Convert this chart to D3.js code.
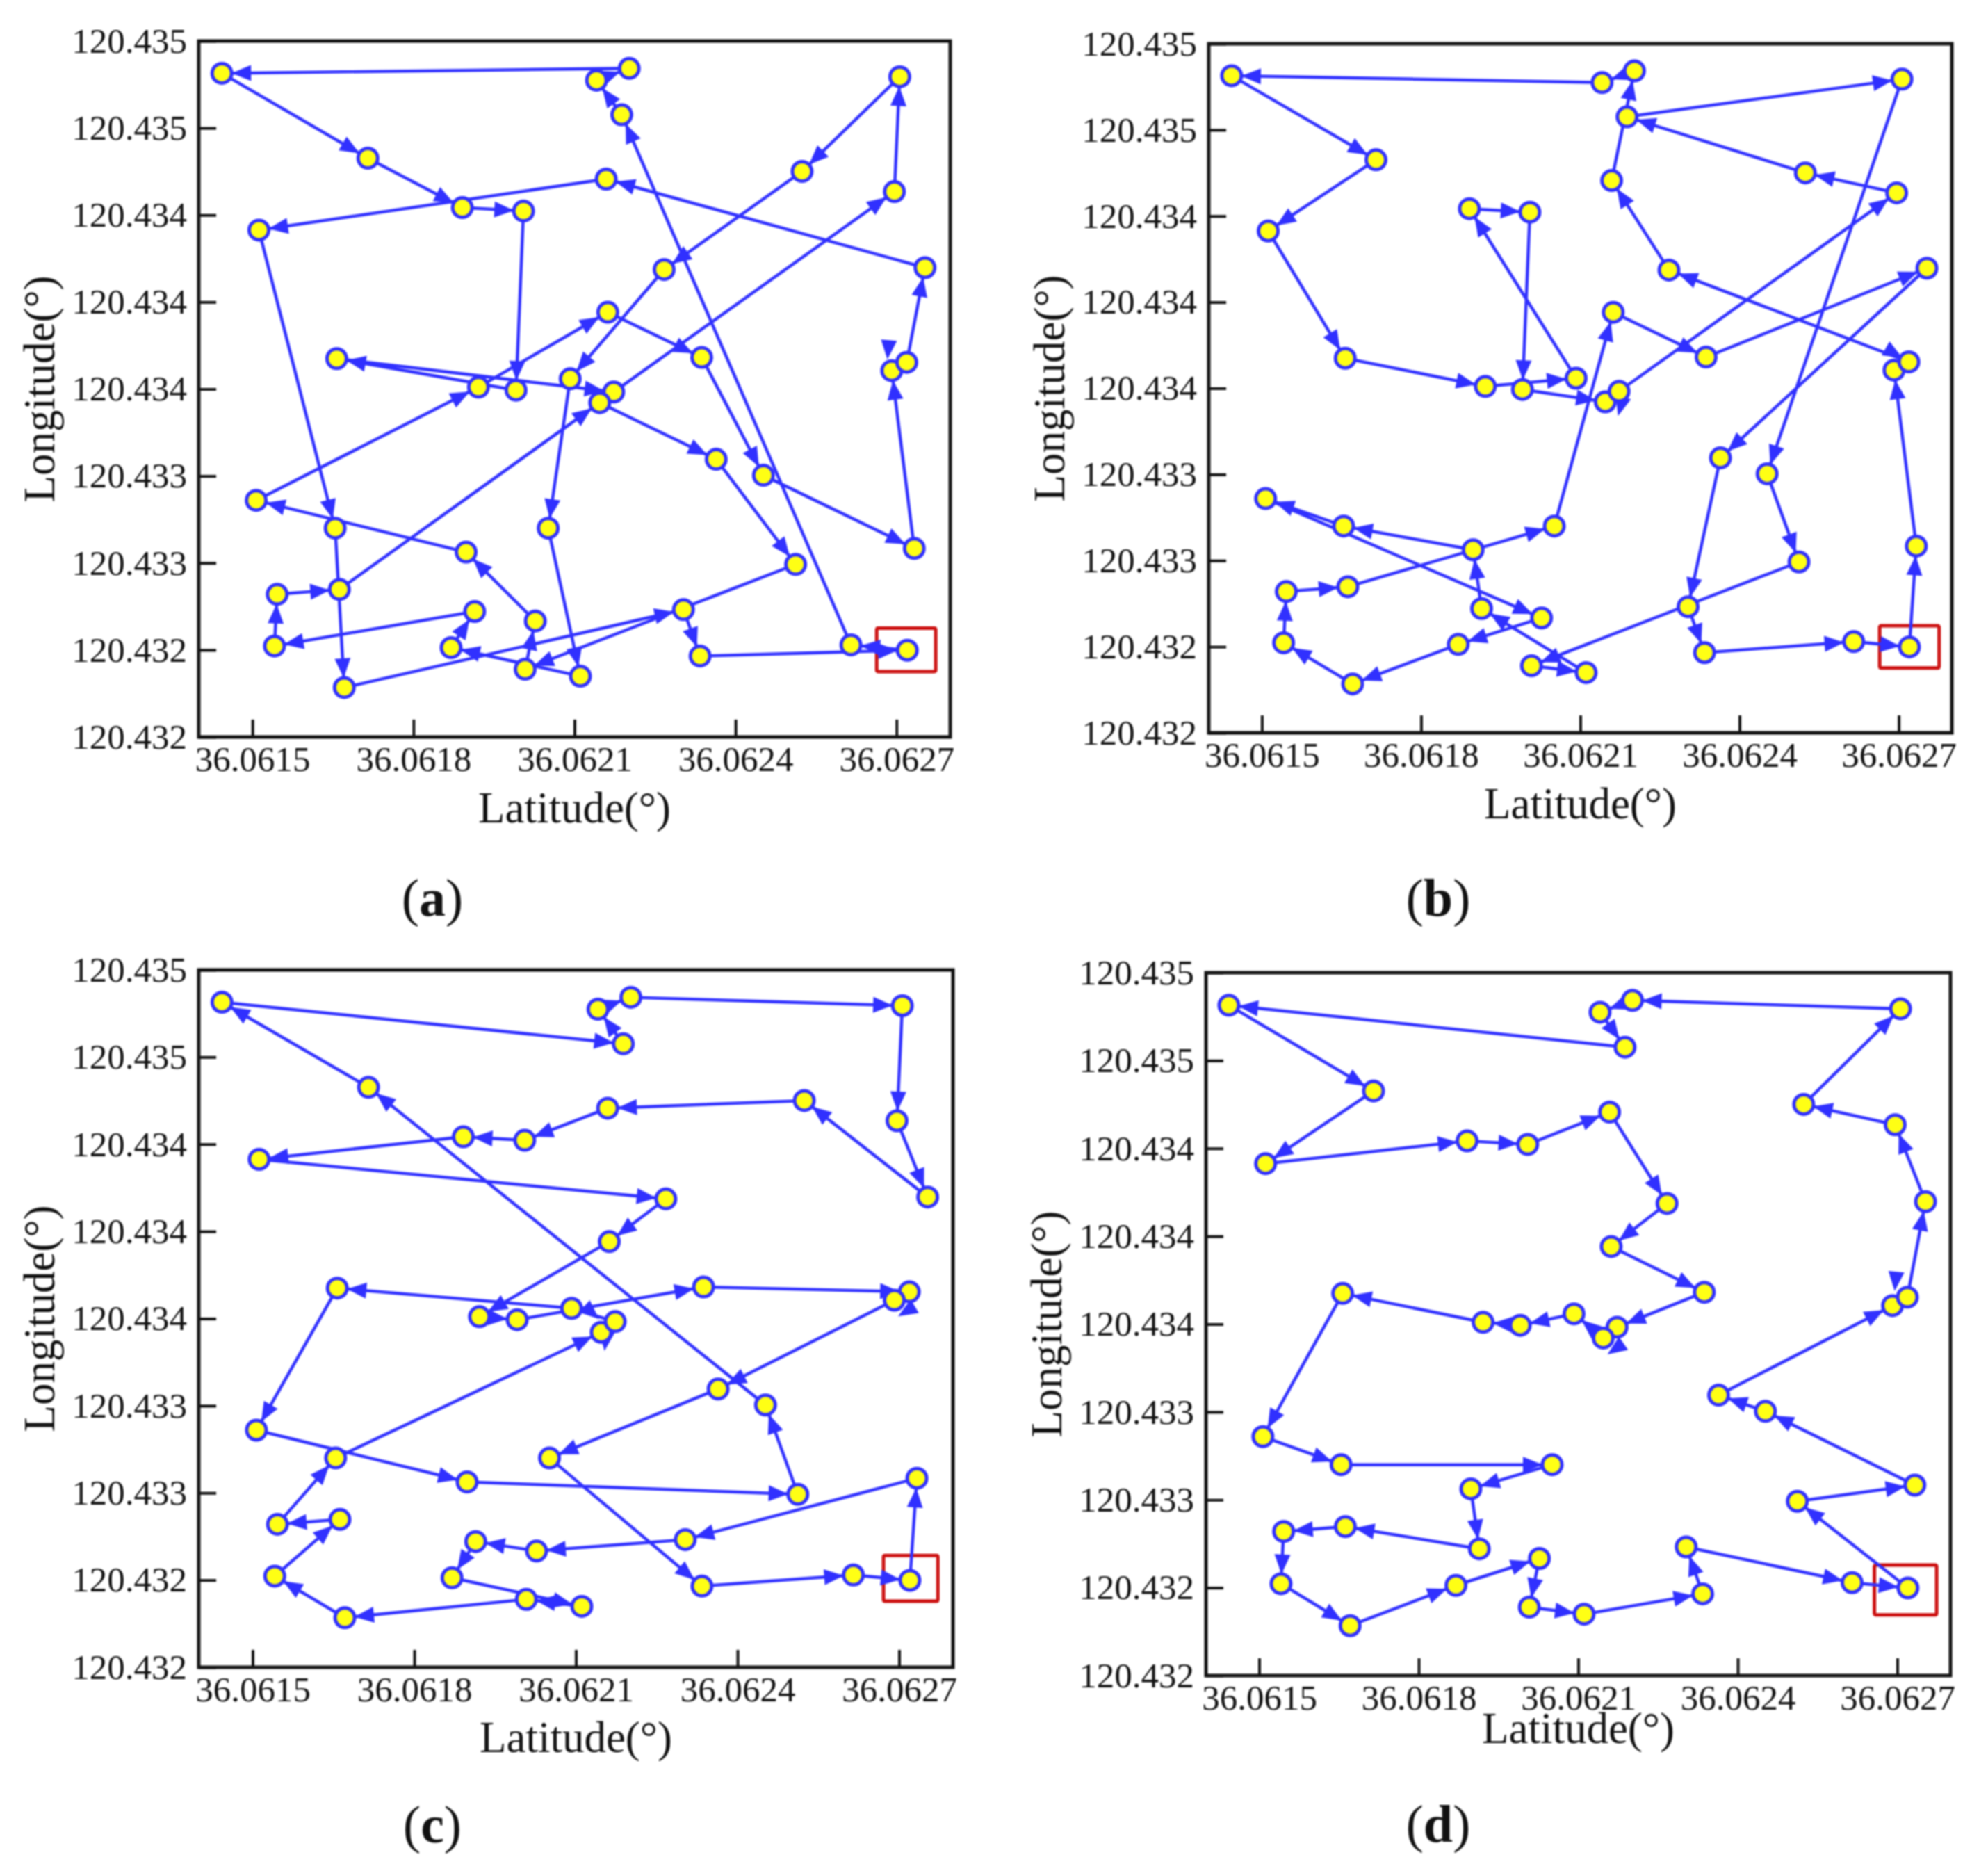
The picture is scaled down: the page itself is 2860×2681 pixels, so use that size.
<!DOCTYPE html>
<html>
<head>
<meta charset="utf-8">
<script src="https://cdn.jsdelivr.net/npm/d3@7"></script>
<style>
  html, body { margin: 0; background: #fff; }
  /* the original is a soft upscaled bitmap */
  #chart { filter: blur(0.8px); display: block; }
  text { font-family: "Liberation Serif", serif; fill: #111; }
</style>
</head>
<body>
<svg id="chart" width="2860" height="2681"></svg>
<script>
// waypoints, the same 45 in all four panels
var wayLat = [36.06272, 36.062615, 36.062334, 36.062303, 36.062512, 36.062733, 36.062452, 36.062364, 36.062337,
  36.062267, 36.062162, 36.062524, 36.062696, 36.062706, 36.062753, 36.062159, 36.062202, 36.062141, 36.062188,
  36.061443, 36.061715, 36.061891, 36.062005, 36.061512, 36.061657, 36.061921, 36.061991, 36.062092, 36.062173,
  36.062147, 36.061507, 36.061654, 36.061898, 36.062051, 36.062719, 36.062691, 36.061662, 36.061546, 36.061541,
  36.061671, 36.06187, 36.062008, 36.062111, 36.062027, 36.061914];
var wayLon = [120.432374, 120.432397, 120.432349, 120.432549, 120.432744, 120.432813, 120.433128, 120.433197, 120.433636,
  120.434015, 120.433831, 120.434438, 120.434351, 120.434846, 120.434023, 120.434405, 120.434882, 120.434831, 120.434682,
  120.434861, 120.434495, 120.434282, 120.434267, 120.434185, 120.433631, 120.433508, 120.433495, 120.433544, 120.433487,
  120.433441, 120.43302, 120.4329, 120.432797, 120.4329, 120.433615, 120.433579, 120.432636, 120.432615, 120.432392,
  120.432213, 120.432385, 120.432292, 120.432262, 120.4325, 120.432541];

// visiting order of each panel (indexes into the waypoints), all closed back to 0
var routeA = [0,1,18,17,16,19,20,21,22,26,24,28,12,13,11,9,27,33,42,40,44,38,37,36,29,7,4,41,43,32,30,25,10,8,6,5,35,34,14,15,23,31,39,3,2];
var routeB = [0,5,35,34,9,15,16,17,19,20,23,24,25,27,21,22,26,29,28,12,11,18,13,6,4,41,42,44,32,31,30,43,40,39,38,37,36,33,10,8,14,7,3,2,1];
var routeC = [0,5,3,43,44,40,42,41,39,38,36,37,31,29,28,27,24,30,32,4,6,20,19,18,17,16,13,12,14,11,15,22,21,23,9,10,25,26,8,34,35,7,33,2,1];
var routeD = [0,4,5,6,7,35,34,14,12,11,13,16,17,18,19,20,23,21,22,15,9,10,8,28,29,27,26,25,24,30,31,33,32,44,36,37,38,39,40,43,41,42,2,3,1];

// the short hops have their arrowhead knocked off the line in the original: tip lat, tip lon, tail lat, tail lon
var looseHeadsA = [[36.062683, 120.433627, 36.062685, 120.433684]];
var looseHeadsB = [[36.062171, 120.43338, 36.062178, 120.433438],
                   [36.062707, 120.433632, 36.062682, 120.433665]];
var looseHeadsC = [[36.062153, 120.433361, 36.062156, 120.433415],
                   [36.062698, 120.43351, 36.062726, 120.433549],
                   [36.062143, 120.433498, 36.062121, 120.433543]];
var looseHeadsD = [[36.062155, 120.433371, 36.062183, 120.433415],
                   [36.062695, 120.433641, 36.062697, 120.433691]];
var shortHops = ['34-35', '28-29', '27-28'];

// red box round the start point: lat from, lat to, lon from, lon to
var boxA = [36.062663, 36.062773, 120.432282, 120.432469];
var boxB = [36.062664, 36.062776, 120.432282, 120.432466];
var boxC = [36.062671, 36.062772, 120.432284, 120.432481];
var boxD = [36.062657, 36.062774, 120.432259, 120.432472];

var latTicks = [36.0615, 36.0618, 36.0621, 36.0624, 36.0627];
var latLabels = ['36.0615', '36.0618', '36.0621', '36.0624', '36.0627'];
var lonTicks = [120.432, 120.432375, 120.43275, 120.433125, 120.4335, 120.433875, 120.43425, 120.434625, 120.435];
var lonLabels = ['120.432', '120.432', '120.433', '120.433', '120.434', '120.434', '120.434', '120.435', '120.435'];

var latDomain = [36.0614, 36.0628];
var lonDomain = [120.432, 120.435];

var panels = [
  {name: 'a', route: routeA, loose: looseHeadsA, box: boxA, x0: 286, x1: 1367, y0: 59, y1: 1060, titleGap: 103, tagX: 622, tagY: 1317},
  {name: 'b', route: routeB, loose: looseHeadsB, box: boxB, x0: 1739, x1: 2808, y0: 63, y1: 1054, titleGap: 103, tagX: 2069, tagY: 1317},
  {name: 'c', route: routeC, loose: looseHeadsC, box: boxC, x0: 286, x1: 1371, y0: 1395, y1: 2398, titleGap: 102, tagX: 622, tagY: 2650},
  {name: 'd', route: routeD, loose: looseHeadsD, box: boxD, x0: 1735, x1: 2806, y0: 1399, y1: 2410, titleGap: 77, tagX: 2069, tagY: 2649}
];

var BLUE = '#3030ff';
var svg = d3.select('#chart');

function head(g, tipX, tipY, angle) {
  // triangle pointing along angle, tip at (tipX, tipY)
  g.append('path')
    .attr('d', 'M0,0L-28,-11.5L-28,11.5Z')
    .attr('fill', BLUE)
    .attr('transform', 'translate(' + tipX + ',' + tipY + ') rotate(' + (angle * 180 / Math.PI) + ')');
}

function drawPanel(p) {
  var x = d3.scaleLinear().domain(latDomain).range([p.x0, p.x1]);
  var y = d3.scaleLinear().domain(lonDomain).range([p.y1, p.y0]);
  var g = svg.append('g').attr('class', 'panel-' + p.name);

  // axes: ticks point inwards, no ticks on the top and right sides
  var xAxis = d3.axisBottom(x).tickValues(latTicks)
    .tickFormat(function (d, i) { return latLabels[i]; })
    .tickSizeInner(-25).tickSizeOuter(0).tickPadding(13);
  var yAxis = d3.axisLeft(y).tickValues(lonTicks)
    .tickFormat(function (d, i) { return lonLabels[i]; })
    .tickSizeInner(-25).tickSizeOuter(0).tickPadding(17);

  [g.append('g').attr('transform', 'translate(0,' + p.y1 + ')').call(xAxis),
   g.append('g').attr('transform', 'translate(' + p.x0 + ',0)').call(yAxis)].forEach(function (a) {
    a.select('.domain').remove();
    a.selectAll('line').attr('stroke', '#111').attr('stroke-width', 4);
    a.selectAll('text').style('font-size', '51px').attr('fill', '#111');
  });

  g.append('rect')
    .attr('x', p.x0).attr('y', p.y0)
    .attr('width', p.x1 - p.x0).attr('height', p.y1 - p.y0)
    .attr('fill', 'none').attr('stroke', '#111').attr('stroke-width', 5);

  g.append('text')
    .attr('x', (p.x0 + p.x1) / 2).attr('y', p.y1 + p.titleGap + 20)
    .attr('text-anchor', 'middle').style('font-size', '63px')
    .text('Latitude(°)');
  g.append('text')
    .attr('transform', 'translate(' + (p.x0 - 223 + 15) + ',' + ((p.y0 + p.y1) / 2) + ') rotate(-90)')
    .attr('text-anchor', 'middle').style('font-size', '63px')
    .text('Longitude(°)');

  var tag = g.append('text')
    .attr('x', p.tagX).attr('y', p.tagY)
    .attr('text-anchor', 'middle').style('font-size', '76px');
  tag.append('tspan').text('(');
  tag.append('tspan').style('font-weight', 'bold').text(p.name);
  tag.append('tspan').text(')');

  g.append('rect')
    .attr('x', x(p.box[0])).attr('y', y(p.box[3]))
    .attr('width', x(p.box[1]) - x(p.box[0])).attr('height', y(p.box[2]) - y(p.box[3]))
    .attr('rx', 2)
    .attr('fill', 'none').attr('stroke', '#cc0f0f').attr('stroke-width', 5);

  // the route, closed back to the start
  var closed = p.route.concat([p.route[0]]);
  var line = d3.line()
    .x(function (i) { return x(wayLat[i]); })
    .y(function (i) { return y(wayLon[i]); });
  g.append('path').datum(closed)
    .attr('d', line)
    .attr('fill', 'none').attr('stroke', BLUE).attr('stroke-width', 4.5).attr('stroke-linejoin', 'round');

  d3.pairs(closed).forEach(function (e) {
    var key = Math.min(e[0], e[1]) + '-' + Math.max(e[0], e[1]);
    if (shortHops.indexOf(key) >= 0) return;
    var ax = x(wayLat[e[0]]), ay = y(wayLon[e[0]]), bx = x(wayLat[e[1]]), by = y(wayLon[e[1]]);
    var ang = Math.atan2(by - ay, bx - ax);
    head(g, bx - 14 * Math.cos(ang), by - 14 * Math.sin(ang), ang);
  });

  p.loose.forEach(function (h) {
    var ang = Math.atan2(y(h[1]) - y(h[3]), x(h[0]) - x(h[2]));
    head(g, x(h[0]), y(h[1]), ang);
  });

  g.selectAll('circle.way').data(p.route).enter().append('circle')
    .attr('class', 'way')
    .attr('cx', function (i) { return x(wayLat[i]); })
    .attr('cy', function (i) { return y(wayLon[i]); })
    .attr('r', 14)
    .attr('fill', '#ffff14')
    .attr('stroke', BLUE).attr('stroke-width', 5);
}

panels.forEach(drawPanel);
</script>
</body>
</html>
